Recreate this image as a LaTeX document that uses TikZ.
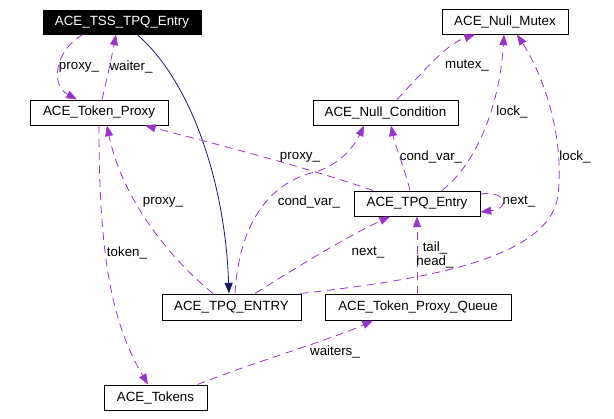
\documentclass[tikz,border=0pt]{standalone}
\usepackage{fontspec}
\setmainfont{Liberation Sans}
\usetikzlibrary{arrows.meta,calc}
\definecolor{edgepurple}{HTML}{9A32CD}
\definecolor{navyedge}{HTML}{191970}
\begin{document}
\begin{tikzpicture}[x=0.75pt,y=-0.75pt,
  cls/.style={draw=black, line width=0.75pt, fill=white, inner sep=0pt, text=black,
    font=\fontsize{10}{12}\selectfont},
  lbl/.style={inner sep=0pt, text=black, font=\fontsize{10}{12}\selectfont},
  rel/.style={draw=edgepurple, line width=0.6pt, dash pattern=on 6pt off 4pt,
    -{Triangle[length=8pt,width=6pt,fill=edgepurple]}},
  inh/.style={draw=navyedge, line width=0.6pt,
    -{Triangle[length=8pt,width=6pt,fill=navyedge]}}
]
\useasboundingbox (0,0) rectangle (614,418);
% nodes
\node[cls, fill=black, text=white, minimum width=158*0.75pt, minimum height=24*0.75pt] (tss) at (122,22) {ACE\_TSS\_TPQ\_Entry};
\node[cls, minimum width=126*0.75pt, minimum height=25*0.75pt] (mutex) at (505,21.5) {ACE\_Null\_Mutex};
\node[cls, minimum width=138*0.75pt, minimum height=25*0.75pt] (tp) at (99,112.5) {ACE\_Token\_Proxy};
\node[cls, minimum width=145*0.75pt, minimum height=25*0.75pt] (nc) at (385.5,112.5) {ACE\_Null\_Condition};
\node[cls, minimum width=126*0.75pt, minimum height=25*0.75pt] (tpqe) at (417,203.5) {ACE\_TPQ\_Entry};
\node[cls, minimum width=139*0.75pt, minimum height=26*0.75pt] (entry) at (231.5,307) {ACE\_TPQ\_ENTRY};
\node[cls, minimum width=186*0.75pt, minimum height=26*0.75pt] (queue) at (418,307) {ACE\_Token\_Proxy\_Queue};
\node[cls, minimum width=103*0.75pt, minimum height=25*0.75pt] (tokens) at (155.5,397.5) {ACE\_Tokens};
% edges
\draw[rel] ($(tss.south)+(-39,0)$) .. controls (55,50) and (50,85) .. ($(tp.north)+(-22,0)$);
\draw[rel] ($(tp.north)+(3,0)$) .. controls (108,75) and (112,55) .. ($(tss.south)+(-6,0)$);
\draw[inh] ($(tss.south)+(15,0)$) .. controls (190,80) and (225,180) .. ($(entry.north)+(-2.5,0)$);
\draw[rel] ($(tpqe.north)+(-44,0)$) .. controls (300,165) and (200,140) .. ($(tp.south)+(46,0)$);
\draw[rel] ($(entry.north)+(-18.5,0)$) .. controls (160,250) and (120,190) .. ($(tp.south)+(8,0)$);
\draw[rel] (tp.south) .. controls (99,250) and (110,320) .. ($(tokens.north)+(-7.5,0)$);
\draw[rel] ($(nc.north)+(11.5,0)$) .. controls (425,70) and (445,45) .. ($(mutex.south)+(-30,0)$);
\draw[rel] ($(tpqe.north)+(25,0)$) .. controls (480,160) and (500,100) .. ($(mutex.south)+(-1,0)$);
\draw[rel] ($(entry.north east)+(-1,0)$) .. controls (420,280) and (550,260) .. (558,195)
   .. controls (565,130) and (540,70) .. ($(mutex.south)+(12,0)$);
\draw[rel] ($(tpqe.north)+(-7,0)$) .. controls (405,170) and (395,145) .. ($(nc.south)+(5.5,0)$);
\draw[rel] ($(entry.north)+(3.5,0)$) .. controls (240,210) and (280,180) .. (315,172)
   .. controls (340,165) and (355,145) .. ($(nc.south)+(-21.5,0)$);
\draw[rel] ($(tpqe.east)+(0,-9.5)$) .. controls (505,190) and (512,208) .. ($(tpqe.east)+(0,8.5)$);
\draw[rel] ($(entry.north)+(23.5,0)$) .. controls (300,265) and (350,235) .. ($(tpqe.south)+(-27,0)$);
\draw[rel] ($(queue.north)+(-1,0)$) -- (tpqe.south);
\draw[rel] ($(tokens.north east)+(-10,0)$) .. controls (260,360) and (330,340) .. ($(queue.south)+(-45,0)$);
% labels
\node[lbl] (l1) at (79,67) {proxy\_};
\node[lbl] (l2) at (131,67) {waiter\_};
\node[lbl] (l3) at (300,157) {proxy\_};
\node[lbl] (l4) at (163,202) {proxy\_};
\node[lbl] (l5) at (127,253) {token\_};
\node[lbl] (l6) at (467,66) {mutex\_};
\node[lbl] (l7) at (512,112) {lock\_};
\node[lbl] (l8) at (575,157) {lock\_};
\node[lbl] (l9) at (431,157) {cond\_var\_};
\node[lbl] (l10) at (309,202) {cond\_var\_};
\node[lbl] (l11) at (519,202) {next\_};
\node[lbl] (l12) at (368,253) {next\_};
\node[lbl] (l13) at (435,248) {tail\_};
\node[lbl] (l14) at (435,262) {head\_};
\node[lbl] (l15) at (335,352) {waiters\_};
\end{tikzpicture}
\end{document}
